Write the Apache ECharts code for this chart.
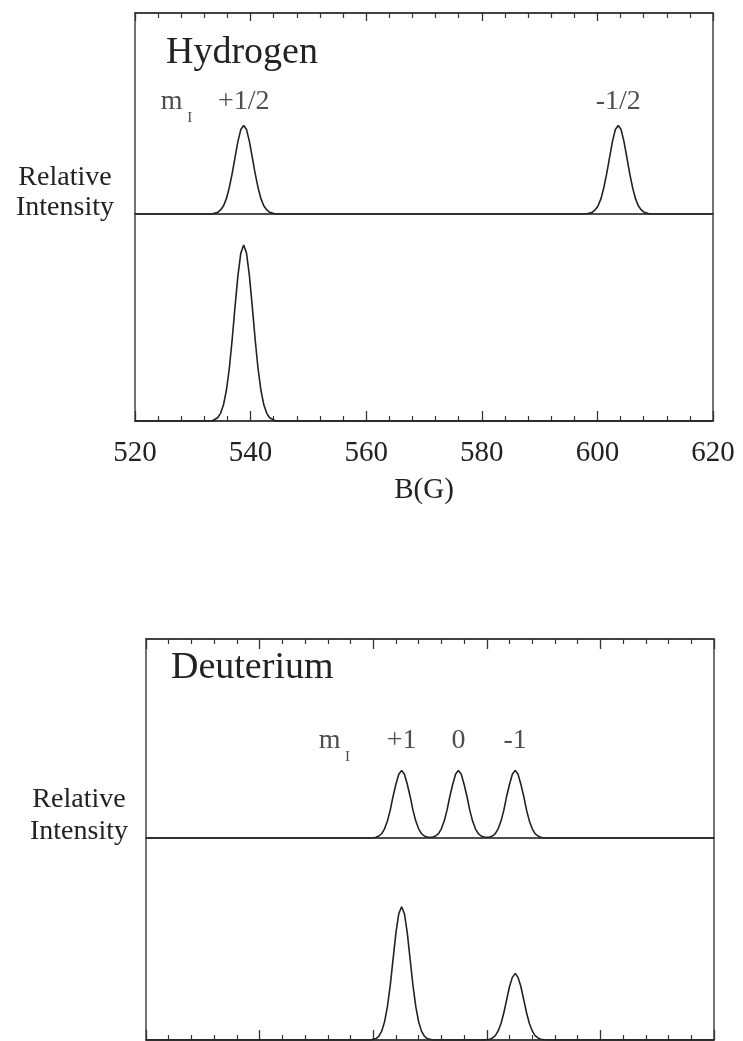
<!DOCTYPE html>
<html>
<head>
<meta charset="utf-8">
<script src="https://cdn.jsdelivr.net/npm/echarts@6/dist/echarts.min.js"></script>
<style>
html,body{margin:0;padding:0;background:#fff;}
#chart{width:743px;height:1041px;}
</style>
</head>
<body>
<div id="chart"></div>
<script>
// ---------- data ----------
const tickLabels = ['520', '540', '560', '580', '600', '620'];

const hydrogenLines = [538.8, 603.6];
const hydrogenLineLabels = ['+1/2', '-1/2'];
const deuteriumLines = [565, 575, 585];
const deuteriumLineLabels = ['+1', '0', '-1'];

// Hydrogen, upper trace (stick spectrum broadened), B (G), relative intensity
const hydrogenUpper = [
  [520, 0], [533.3, 0], [534.3, 0.008], [534.8, 0.02], [535.3, 0.04], [535.8, 0.075],
  [536.3, 0.13], [536.8, 0.20], [537.3, 0.28], [537.8, 0.36], [538.3, 0.42], [538.8, 0.44],
  [539.3, 0.42], [539.8, 0.36], [540.3, 0.28], [540.8, 0.20], [541.3, 0.13], [541.8, 0.075],
  [542.3, 0.04], [542.8, 0.02], [543.3, 0.008], [544.3, 0],
  [598.1, 0], [599.1, 0.008], [599.6, 0.02], [600.1, 0.04], [600.6, 0.075], [601.1, 0.13],
  [601.6, 0.20], [602.1, 0.28], [602.6, 0.36], [603.1, 0.42], [603.6, 0.44], [604.1, 0.42],
  [604.6, 0.36], [605.1, 0.28], [605.6, 0.20], [606.1, 0.13], [606.6, 0.075], [607.1, 0.04],
  [607.6, 0.02], [608.1, 0.008], [609.1, 0], [620, 0]
];
// Hydrogen, lower trace
const hydrogenLower = [
  [520, 0], [533.3, 0], [534.3, 0.016], [534.8, 0.037], [535.3, 0.077], [535.8, 0.146],
  [536.3, 0.25], [536.8, 0.39], [537.3, 0.55], [537.8, 0.70], [538.3, 0.81], [538.8, 0.85],
  [539.3, 0.81], [539.8, 0.70], [540.3, 0.55], [540.8, 0.39], [541.3, 0.25], [541.8, 0.146],
  [542.3, 0.077], [542.8, 0.037], [543.3, 0.016], [544.3, 0], [620, 0]
];
// Deuterium, upper trace
const deuteriumUpper = [
  [520, 0], [560, 0], [560.5, 0.004], [561, 0.01], [561.5, 0.022], [562, 0.046], [562.5, 0.085],
  [563, 0.14], [563.5, 0.21], [564, 0.27], [564.5, 0.32], [565, 0.34], [565.5, 0.32], [566, 0.27],
  [566.5, 0.21], [567, 0.14], [567.5, 0.085], [568, 0.046], [568.5, 0.022], [569, 0.01],
  [569.5, 0.005], [570, 0.003], [570.5, 0.005], [571, 0.01], [571.5, 0.022], [572, 0.046],
  [572.5, 0.085], [573, 0.14], [573.5, 0.21], [574, 0.27], [574.5, 0.32], [575, 0.34],
  [575.5, 0.32], [576, 0.27], [576.5, 0.21], [577, 0.14], [577.5, 0.085], [578, 0.046],
  [578.5, 0.022], [579, 0.01], [579.5, 0.005], [580, 0.003], [580.5, 0.005], [581, 0.01],
  [581.5, 0.022], [582, 0.046], [582.5, 0.085], [583, 0.14], [583.5, 0.21], [584, 0.27],
  [584.5, 0.32], [585, 0.34], [585.5, 0.32], [586, 0.27], [586.5, 0.21], [587, 0.14],
  [587.5, 0.085], [588, 0.046], [588.5, 0.022], [589, 0.01], [589.5, 0.004], [590, 0], [620, 0]
];
// Deuterium, lower trace
const deuteriumLower = [
  [520, 0], [559.5, 0], [560.5, 0.007], [561, 0.019], [561.5, 0.044], [562, 0.09], [562.5, 0.165],
  [563, 0.27], [563.5, 0.40], [564, 0.53], [564.5, 0.625], [565, 0.66], [565.5, 0.625], [566, 0.53],
  [566.5, 0.40], [567, 0.27], [567.5, 0.165], [568, 0.09], [568.5, 0.044], [569, 0.019],
  [569.5, 0.007], [570.5, 0],
  [579.5, 0], [580.5, 0.004], [581, 0.01], [581.5, 0.022], [582, 0.045], [582.5, 0.082],
  [583, 0.135], [583.5, 0.20], [584, 0.265], [584.5, 0.31], [585, 0.33], [585.5, 0.31],
  [586, 0.265], [586.5, 0.20], [587, 0.135], [587.5, 0.082], [588, 0.045], [588.5, 0.022],
  [589, 0.01], [589.5, 0.004], [590.5, 0], [620, 0]
];

// ---------- chart ----------
const FONT = '"Liberation Serif", "Times New Roman", serif';
const INK = '#222';
const axMin = +tickLabels[0];
const axMax = +tickLabels[tickLabels.length - 1];
const axInt = +tickLabels[1] - +tickLabels[0];

function xAx(gridIndex, position, majorLen, extra) {
  return Object.assign({
    type: 'value', gridIndex: gridIndex, position: position,
    min: axMin, max: axMax, interval: axInt,
    axisLine: { show: true, onZero: false, lineStyle: { color: '#333', width: 1.5 } },
    axisTick: { show: true, inside: true, length: majorLen, lineStyle: { color: '#333', width: 1.3 } },
    minorTick: { show: true, splitNumber: 5, length: 5, lineStyle: { color: '#333', width: 1.2 } },
    splitLine: { show: false }, minorSplitLine: { show: false },
    axisLabel: { show: false }
  }, extra || {});
}
function yAx(gridIndex) {
  return { type: 'value', gridIndex: gridIndex, min: 0, max: 1, show: false };
}
function trace(idx, data) {
  return {
    type: 'line', xAxisIndex: idx, yAxisIndex: idx, data: data,
    symbol: 'none', showSymbol: false, silent: true,
    lineStyle: { color: INK, width: 1.6 }, z: 3
  };
}
function labelSeries(idx, lines, texts, yLevel, subLevel, fs) {
  const data = lines.map((x, i) => ({ value: [x, yLevel], name: texts[i] }));
  data.push({ value: [lines[0], yLevel], name: 'm', label: { offset: [-72, 0] } });
  data.push({ value: [lines[0], subLevel], name: 'I', label: { offset: [-54, 0], fontSize: 15 } });
  return {
    type: 'scatter', xAxisIndex: idx, yAxisIndex: idx, data: data, symbolSize: 1,
    itemStyle: { color: 'rgba(0,0,0,0)' }, silent: true,
    label: { show: true, position: 'inside', formatter: p => p.name,
             fontFamily: FONT, fontSize: fs, color: INK }
  };
}

const gridStyle = { show: true, borderColor: '#444', borderWidth: 1.5, backgroundColor: 'transparent' };
const chart = echarts.init(document.getElementById('chart'), null, { renderer: 'canvas' });
chart.setOption({
  animation: false,
  backgroundColor: '#fff',
  grid: [
    Object.assign({ left: 135, width: 578, top: 13, height: 201 }, gridStyle),
    Object.assign({ left: 135, width: 578, top: 214, height: 207 }, gridStyle),
    Object.assign({ left: 146, width: 568, top: 639, height: 199 }, gridStyle),
    Object.assign({ left: 146, width: 568, top: 838, height: 202 }, gridStyle)
  ],
  xAxis: [
    xAx(0, 'top', 8),
    xAx(1, 'bottom', 10, {
      axisLabel: { show: true, margin: 18, fontFamily: FONT, fontSize: 29, color: INK,
                   formatter: v => tickLabels[Math.round((v - axMin) / axInt)] },
      name: 'B(G)', nameLocation: 'middle', nameGap: 55,
      nameTextStyle: { fontFamily: FONT, fontSize: 29, color: INK }
    }),
    xAx(2, 'top', 10),
    xAx(3, 'bottom', 10)
  ],
  yAxis: [yAx(0), yAx(1), yAx(2), yAx(3)],
  series: [
    trace(0, hydrogenUpper),
    trace(1, hydrogenLower),
    trace(2, deuteriumUpper),
    trace(3, deuteriumLower),
    labelSeries(0, hydrogenLines, hydrogenLineLabels, 0.557, 0.478, 28),
    labelSeries(2, deuteriumLines, deuteriumLineLabels, 0.49, 0.405, 28)
  ],
  graphic: [
    { type: 'text', x: 166, y: 53, style: { text: 'Hydrogen', font: '38px ' + FONT, fill: INK, textVerticalAlign: 'middle' } },
    { type: 'text', x: 171, y: 668, style: { text: 'Deuterium', font: '38px ' + FONT, fill: INK, textVerticalAlign: 'middle' } },
    { type: 'text', x: 65, y: 193, style: { text: 'Relative\nIntensity', font: '28px ' + FONT, lineHeight: 30, fill: INK, textAlign: 'center', textVerticalAlign: 'middle' } },
    { type: 'text', x: 79, y: 816, style: { text: 'Relative\nIntensity', font: '28px ' + FONT, lineHeight: 32, fill: INK, textAlign: 'center', textVerticalAlign: 'middle' } }
  ]
});
</script>
</body>
</html>
